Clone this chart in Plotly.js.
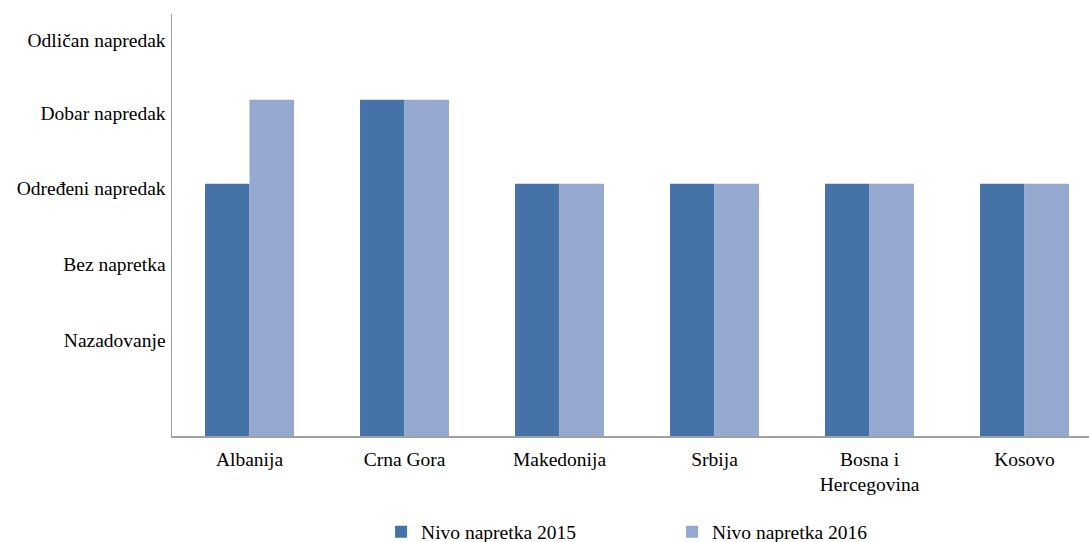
<!DOCTYPE html>
<html>
<head>
<meta charset="utf-8">
<script src="https://cdn.plot.ly/plotly-3.0.1.min.js"></script>
<style>html,body{margin:0;padding:0;background:#fff;}#chart{width:1089px;height:542px;}</style>
</head>
<body>
<div id="chart"></div>
<script>
const countries = ["Albanija", "Crna Gora", "Makedonija", "Srbija", "Bosna i<br>Hercegovina", "Kosovo"];
const values2015 = [3, 4, 3, 3, 3, 3];
const values2016 = [4, 4, 3, 3, 3, 3];
const seriesNames = ["Nivo napretka 2015", "Nivo napretka 2016"];
const levelLabels = ["Nazadovanje", "Bez napretka", "Određeni napredak", "Dobar napredak", "Odličan napredak"];

// label positions as placed in the original (text boxes, slightly offset from bar levels)
const levelTickPos = [1.143, 2.048, 2.952, 3.845, 4.714];

const font = {family: "'Liberation Serif', 'Times New Roman', serif", size: 19.5, color: "#000"};

const data = [
  {type: "bar", name: seriesNames[0], x: countries, y: values2015, marker: {color: "#4573A7"}},
  {type: "bar", name: seriesNames[1], x: countries, y: values2016, marker: {color: "#95A9D0"}}
];

const layout = {
  width: 1089, height: 542,
  margin: {l: 172, r: 0, t: 14, b: 106},
  paper_bgcolor: "#fff", plot_bgcolor: "#fff",
  font: font,
  barmode: "group",
  bargap: 0.426,
  bargroupgap: 0,
  showlegend: true,
  legend: {orientation: "h", x: 0.228, xanchor: "left", yref: "container", y: 0.0185, yanchor: "middle",
           font: font, traceorder: "normal", itemwidth: 30, entrywidth: 246},
  xaxis: {
    type: "category",
    range: [-0.5, 5.416],
    showgrid: false, zeroline: false,
    showline: true, linecolor: "#A0A0A0", linewidth: 1.5,
    ticks: "", tickfont: font, automargin: false, ticklabelstandoff: 5
  },
  yaxis: {
    range: [0, 5.02],
    showgrid: false, zeroline: false,
    showline: true, linecolor: "#A0A0A0", linewidth: 1.5,
    ticks: "", tickmode: "array", tickvals: levelTickPos, ticktext: levelLabels,
    tickfont: font, automargin: false, ticklabelstandoff: 1
  }
};

Plotly.newPlot("chart", data, layout, {displayModeBar: false, staticPlot: true});
</script>
</body>
</html>
